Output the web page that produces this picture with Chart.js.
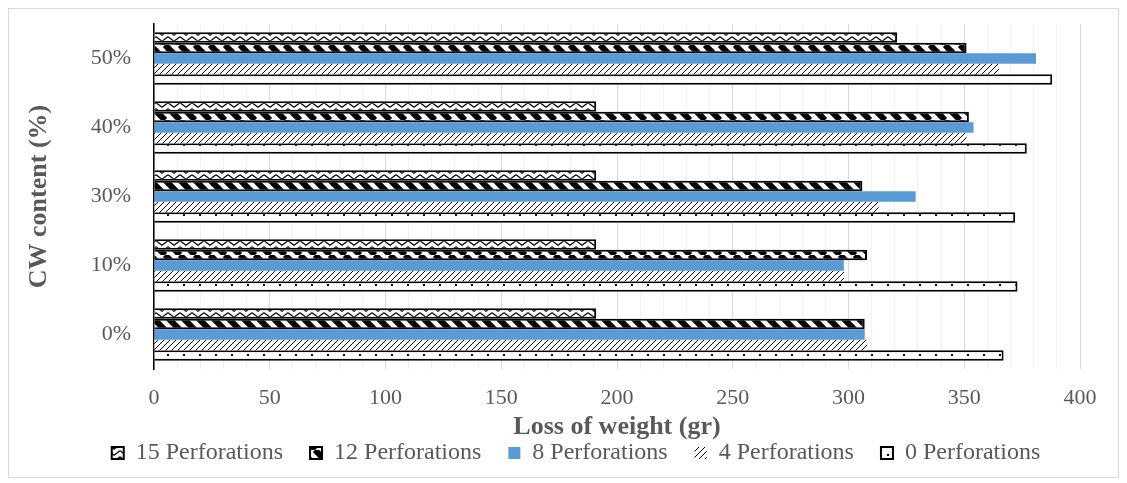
<!DOCTYPE html>
<html>
<head>
<meta charset="utf-8">
<script src="https://cdn.jsdelivr.net/npm/chart.js@4.4.1/dist/chart.umd.min.js"></script>
<style>
html, body { margin: 0; padding: 0; background: #fff; }
#wrap { width: 1127px; height: 483px; position: relative; }
</style>
</head>
<body>
<div id="wrap"><canvas id="mychart"></canvas></div>
<script>
// values (gr), categories bottom -> top
const categories = ['0%', '10%', '30%', '40%', '50%'];
const seriesNames = ['15 Perforations', '12 Perforations', '8 Perforations', '4 Perforations', '0 Perforations'];
const perf15 = [191, 191, 191, 191, 321];
const perf12 = [307, 308, 306, 352, 351];
const perf8 = [307, 298, 329, 354, 381];
const perf4 = [308, 298, 313, 351, 365];
const perf0 = [367, 373, 372, 377, 388];

const canvas = document.getElementById('mychart');
const mainCtx = canvas.getContext('2d');

function makePattern(w, h, draw) {
  const c = document.createElement('canvas');
  c.width = w; c.height = h;
  const g = c.getContext('2d');
  g.fillStyle = '#fff';
  g.fillRect(0, 0, w, h);
  g.fillStyle = '#000';
  g.strokeStyle = '#000';
  draw(g, w, h);
  return mainCtx.createPattern(c, 'repeat');
}

// zigzag
const zigzag = makePattern(12, 6, (g) => {
  g.lineWidth = 1.3;
  g.beginPath();
  g.moveTo(0, 0.8); g.lineTo(6, 5.2); g.lineTo(12, 0.8);
  g.stroke();
});
// wide downward diagonal
const wideDown = makePattern(15, 15, (g, w, h) => {
  g.lineWidth = 6;
  g.beginPath();
  for (const k of [-w, 0, w]) { g.moveTo(k, 0); g.lineTo(k + w, h); }
  g.stroke();
});
// light upward diagonal
const lightUp = makePattern(6, 6, (g, w, h) => {
  g.lineWidth = 1;
  g.beginPath();
  for (const k of [-w, 0, w]) { g.moveTo(k, h); g.lineTo(k + w, 0); }
  g.stroke();
});
// sparse dots
const dots = makePattern(16, 10, (g) => {
  g.fillRect(7, 4, 2, 2);
});

const frame = {
  id: 'frame',
  beforeLayout(chart) {
    const lg = chart.legend;
    if (lg && !lg._wrapped) {
      const fit = lg.fit.bind(lg);
      lg.fit = function () { fit(); this.height = 40; };
      lg._wrapped = true;
    }
  },
  afterLayout(chart) {
    const lg = chart.legend;
    if (lg) {
      lg.left += 31; lg.right += 31;
      lg.top -= 29;
    }
  },
  beforeDraw(chart) {
    const ctx = chart.ctx;
    ctx.save();
    ctx.fillStyle = '#fff';
    ctx.fillRect(0, 0, chart.width, chart.height);
    ctx.strokeStyle = '#d9d9d9';
    ctx.lineWidth = 1;
    ctx.strokeRect(8.5, 8.5, 1110, 469);
    ctx.restore();
  }
};

const tickFont = { family: 'Liberation Serif', size: 22 };
const titleFont = { family: 'Liberation Serif', size: 26, weight: 'bold' };

new Chart('mychart', {
  type: 'bar',
  data: {
    labels: categories,
    datasets: [
      { label: seriesNames[0], data: perf15, backgroundColor: zigzag, borderColor: '#000', borderWidth: 2 },
      { label: seriesNames[1], data: perf12, backgroundColor: wideDown, borderColor: '#000', borderWidth: 2 },
      { label: seriesNames[2], data: perf8, backgroundColor: '#5b9bd5', borderWidth: 0 },
      { label: seriesNames[3], data: perf4, backgroundColor: lightUp, borderWidth: 0 },
      { label: seriesNames[4], data: perf0, backgroundColor: dots, borderColor: '#000', borderWidth: 2 }
    ]
  },
  options: {
    indexAxis: 'y',
    responsive: true,
    maintainAspectRatio: false,
    animation: false,
    layout: { padding: { left: 10, right: 47, top: 24, bottom: 0 } },
    datasets: { bar: { categoryPercentage: 0.76, barPercentage: 1 } },
    scales: {
      x: {
        min: 0,
        max: 400,
        ticks: {
          stepSize: 10,
          autoSkip: false,
          maxRotation: 0,
          padding: 16,
          color: '#595959',
          font: tickFont,
          callback: (v) => (v % 50 === 0 ? v : '')
        },
        grid: {
          drawTicks: false,
          color: (c) => (c.tick && c.tick.value % 50 === 0 ? '#d9d9d9' : '#f2f2f2')
        },
        border: { display: false },
        title: {
          display: true,
          text: 'Loss of weight (gr)',
          color: '#595959',
          font: titleFont,
          padding: { top: 0, bottom: 0 }
        },
        afterFit: (s) => { s.height = 74; }
      },
      y: {
        reverse: true,
        ticks: { padding: 23, color: '#595959', font: tickFont },
        grid: { display: false, drawTicks: false },
        border: { display: true, color: '#000', width: 1.5 },
        title: {
          display: true,
          text: 'CW content (%)',
          color: '#595959',
          font: titleFont,
          padding: { top: 14, bottom: 0 }
        },
        afterFit: (s) => { s.width = 144; s.paddingTop = 0; s.paddingBottom = 0; }
      }
    },
    plugins: {
      legend: {
        position: 'bottom',
        labels: {
          boxWidth: 12,
          boxHeight: 12,
          padding: 27,
          color: '#595959',
          font: { family: 'Liberation Serif', size: 24 }
        }
      },
      tooltip: { enabled: false }
    }
  },
  plugins: [frame]
});
</script>
</body>
</html>
